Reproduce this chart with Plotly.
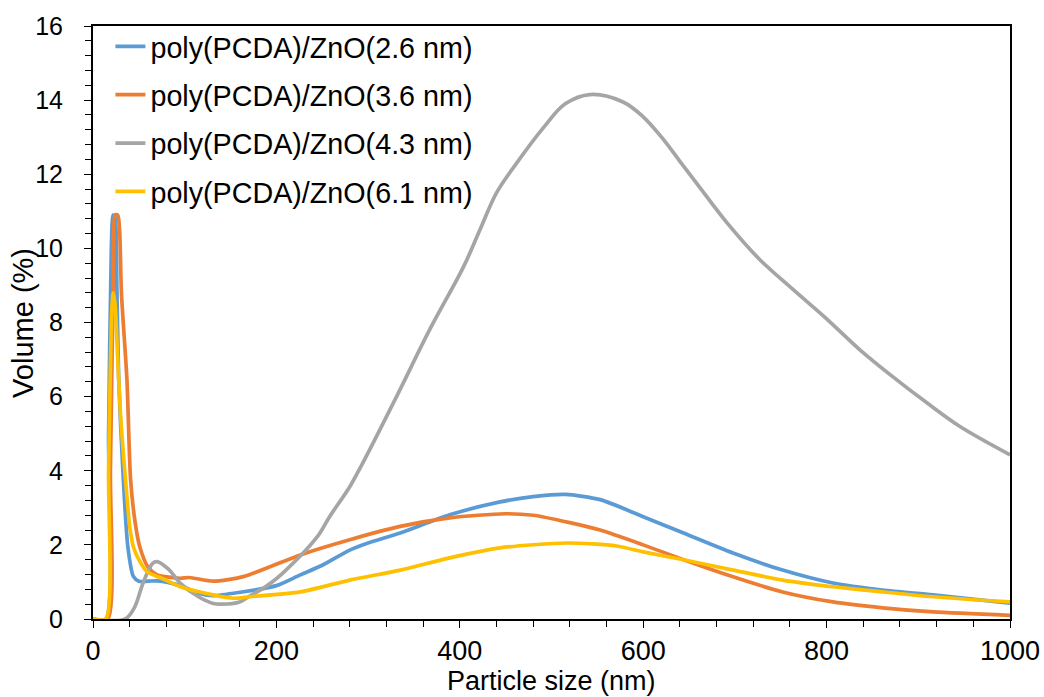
import plotly.graph_objects as go

names = ["poly(PCDA)/ZnO(2.6 nm)", "poly(PCDA)/ZnO(3.6 nm)",
         "poly(PCDA)/ZnO(4.3 nm)", "poly(PCDA)/ZnO(6.1 nm)"]
colors = ["#5B9BD5", "#ED7D31", "#A5A5A5", "#FFC000"]
smooth = [0.7, 0.7, 1.0, 0.7]
x_title = "Particle size (nm)"
y_title = "Volume (%)"

blue_x = [0, 14, 17, 20, 22, 24, 26, 28, 33, 38, 44, 50, 60, 70, 95, 117, 131, 160, 200, 226, 250, 280,
          300, 335, 389, 444, 480, 515, 553, 600, 644, 698, 752, 807, 861, 916, 1000]
blue_y = [0, 0, 5.0, 10.0, 10.9, 10.85, 9.0, 6.5, 3.8, 1.95, 1.15, 1.02, 1.02, 1.03, 0.9, 0.68, 0.63, 0.72,
          0.9, 1.19, 1.45, 1.86, 2.05, 2.32, 2.81, 3.16, 3.3, 3.36, 3.22, 2.76, 2.32, 1.78, 1.32, 0.97, 0.78,
          0.65, 0.43]

orange_x = [0, 16, 19, 22, 24, 27, 29, 31, 37, 41, 46, 51, 60, 70, 95, 105, 131, 165, 226, 280, 335,
            389, 449, 480, 520, 553, 600, 644, 698, 752, 807, 861, 916, 1000]
orange_y = [0, 0, 4.0, 9.0, 10.9, 10.9, 10.5, 8.8, 6.46, 3.76, 2.6, 1.95, 1.4, 1.19, 1.1, 1.12, 1.02, 1.15,
            1.73, 2.14, 2.5, 2.73, 2.84, 2.8, 2.6, 2.4, 2.0, 1.6, 1.14, 0.73, 0.46, 0.3, 0.19, 0.1]

gray_x = [0, 35, 45, 55, 65, 70, 82, 95, 115, 131, 140, 160, 171, 190, 207, 244, 258, 280, 294, 331, 367,
          404, 422, 440, 462, 491, 515, 542, 578, 600, 620, 640, 660, 691, 727, 763, 800, 836, 872, 909,
          945, 1000]
gray_y = [0, 0, 0.3, 1.0, 1.5, 1.55, 1.35, 0.97, 0.6, 0.42, 0.4, 0.46, 0.62, 0.9, 1.24, 2.2, 2.76, 3.57,
          4.2, 6.0, 7.8, 9.5, 10.5, 11.5, 12.3, 13.25, 13.9, 14.15, 13.95, 13.55, 13.0, 12.35, 11.7, 10.7,
          9.7, 8.9, 8.1, 7.27, 6.54, 5.84, 5.2, 4.43]

yellow_x = [0, 14, 17, 20, 22, 24, 27, 30, 33, 37, 40, 44, 50, 59, 75, 95, 131, 153, 171, 226, 280, 335,
            389, 444, 517, 571, 600, 644, 698, 752, 807, 861, 916, 1000]
yellow_y = [0, 0, 4.0, 8.0, 8.8, 8.5, 7.0, 5.5, 4.5, 3.3, 2.5, 1.95, 1.6, 1.27, 1.1, 0.87, 0.65, 0.56,
            0.6, 0.73, 1.05, 1.32, 1.65, 1.92, 2.05, 1.97, 1.81, 1.6, 1.32, 1.05, 0.87, 0.73, 0.6, 0.46]

series = [(blue_x, blue_y), (orange_x, orange_y), (gray_x, gray_y), (yellow_x, yellow_y)]

fig = go.Figure()
for (xs, ys), nm, c, sm in zip(series, names, colors, smooth):
    fig.add_trace(go.Scatter(x=xs, y=ys, name=nm, mode="lines",
                             line=dict(color=c, width=3.7, shape="spline", smoothing=sm),
                             legendgroup=nm))

font = "Liberation Sans, Arial, sans-serif"
fig.update_layout(
    width=1044, height=697,
    margin=dict(l=93, r=34, t=26, b=78, autoexpand=False),
    paper_bgcolor="white", plot_bgcolor="white",
    font=dict(family=font, size=26, color="black"),
    showlegend=True,
    legend=dict(x=0.019, y=1.008, xanchor="left", yanchor="top", bgcolor="rgba(0,0,0,0)",
                font=dict(size=28.7, family=font), tracegroupgap=8, itemwidth=30),
    xaxis=dict(range=[0, 1000], tickmode="linear", tick0=0, dtick=200, automargin=False,
               ticks="outside", ticklen=7, tickwidth=1, tickcolor="black",
               minor=dict(dtick=40, ticks="outside", ticklen=6, tickcolor="black"),
               showline=True, linecolor="black", linewidth=2, mirror=True,
               showgrid=False, zeroline=False, ticklabelstandoff=0,
               tickfont=dict(size=27)),
    yaxis=dict(range=[0, 16], tickmode="linear", tick0=0, dtick=2, automargin=False,
               ticks="outside", ticklen=7, tickwidth=1, tickcolor="black",
               minor=dict(dtick=0.4, ticks="outside", ticklen=6, tickcolor="black"),
               showline=True, linecolor="black", linewidth=2, mirror=True,
               showgrid=False, zeroline=False, ticklabelstandoff=16,
               tickfont=dict(size=25)),
    annotations=[
        dict(text=x_title, xref="paper", yref="paper", x=0.5, y=-0.104, xanchor="center",
             yanchor="middle", showarrow=False, font=dict(size=27, family=font)),
        dict(text=y_title, xref="paper", yref="paper", x=-0.077, y=0.5, xanchor="center",
             yanchor="middle", showarrow=False, textangle=-90, font=dict(size=29, family=font)),
    ],
)

fig.write_html("out.html")
